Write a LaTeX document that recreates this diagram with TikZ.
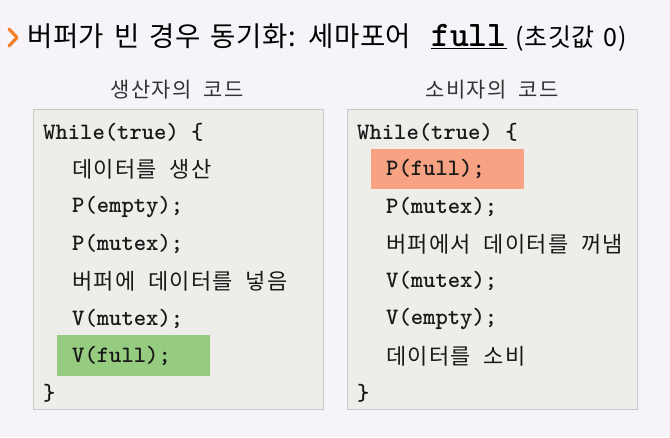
\documentclass[tikz,border=0pt]{standalone}
\usepackage{fontspec}
\setmainfont{Noto Sans CJK KR}
\newfontfamily\hanfont{Noto Sans CJK KR}[LetterSpace=6, WordSpace=2]
\newfontfamily\titlefont{Noto Sans CJK KR}[LetterSpace=2, WordSpace=1.5]
\usepackage{tikz}
\usetikzlibrary{positioning, calc}

\definecolor{bgcol}{RGB}{246,244,248}
\definecolor{boxfill}{RGB}{237,237,233}
\definecolor{boxline}{RGB}{200,200,198}
\definecolor{hlgreen}{RGB}{150,204,127}
\definecolor{hlorange}{RGB}{247,162,130}
\definecolor{chevron}{RGB}{242,128,42}

\tikzstyle{codebox}=[draw=boxline, fill=boxfill, line width=0.8pt]
\tikzstyle{code}=[anchor=west, inner sep=0pt, text=black!90, font=\fontsize{23.5}{24}\selectfont\ttfamily\bfseries]
\tikzstyle{hangul}=[anchor=west, inner sep=0pt, text=black!90, font=\fontsize{22}{24}\hanfont]
\tikzstyle{heading}=[inner sep=0pt, font=\fontsize{21}{22}\hanfont, text=black!80]

\begin{document}
\begin{tikzpicture}[x=1pt, y=-1pt]
        \def\dy{37.3};
        \def\ytop{132};
        \def\pxa{43};
        \def\pxb{72};
        \def\cxa{357};
        \def\cxb{386};

        % 배경
        \fill[bgcol] (0,0) rectangle (670,437);
        \useasboundingbox (0,0) rectangle (670,437);

        % 제목
        \draw[chevron, line width=3.2pt, line cap=round, line join=round] (9,29) -- (17,37.5) -- (9,46);
        \node[anchor=west, inner sep=0pt, font=\fontsize{27.5}{28}\titlefont] (title) at (27,38)
          {버퍼가 빈 경우 동기화: 세마포어\hspace{20pt}\underline{\fontsize{36}{36}\ttfamily\bfseries full}\hspace{9pt}{\fontsize{25}{26}\selectfont(초깃값 0)}};

        % 코드 상자
        \draw[codebox] (33,109) rectangle (323,409);
        \draw[codebox] (347,109) rectangle (637,409);
        \node[heading] (phead) at (177,90) {생산자의 코드};
        \node[heading] (chead) at (492,90) {소비자의 코드};

        % 강조
        \fill[hlgreen] (57,335) rectangle (210,376);
        \fill[hlorange] (371,149) rectangle (524,189);

        % 생산자
        \node[code]   (p0) at (\pxa, \ytop)          {While(true) \{};
        \node[hangul] (p1) at (\pxb, {\ytop+1*\dy})  {데이터를 생산};
        \node[code]   (p2) at (\pxb, {\ytop+2*\dy})  {P(empty);};
        \node[code]   (p3) at (\pxb, {\ytop+3*\dy})  {P(mutex);};
        \node[hangul] (p4) at (\pxb, {\ytop+4*\dy})  {버퍼에 데이터를 넣음};
        \node[code]   (p5) at (\pxb, {\ytop+5*\dy})  {V(mutex);};
        \node[code]   (p6) at (\pxb, {\ytop+6*\dy})  {V(full);};
        \node[code]   (p7) at (\pxa, {\ytop+7*\dy})  {\}};

        % 소비자
        \node[code]   (c0) at (\cxa, \ytop)          {While(true) \{};
        \node[code]   (c1) at (\cxb, {\ytop+1*\dy})  {P(full);};
        \node[code]   (c2) at (\cxb, {\ytop+2*\dy})  {P(mutex);};
        \node[hangul] (c3) at (\cxb, {\ytop+3*\dy})  {버퍼에서 데이터를 꺼냄};
        \node[code]   (c4) at (\cxb, {\ytop+4*\dy})  {V(mutex);};
        \node[code]   (c5) at (\cxb, {\ytop+5*\dy})  {V(empty);};
        \node[hangul] (c6) at (\cxb, {\ytop+6*\dy})  {데이터를 소비};
        \node[code]   (c7) at (\cxa, {\ytop+7*\dy})  {\}};
\end{tikzpicture}
\end{document}
